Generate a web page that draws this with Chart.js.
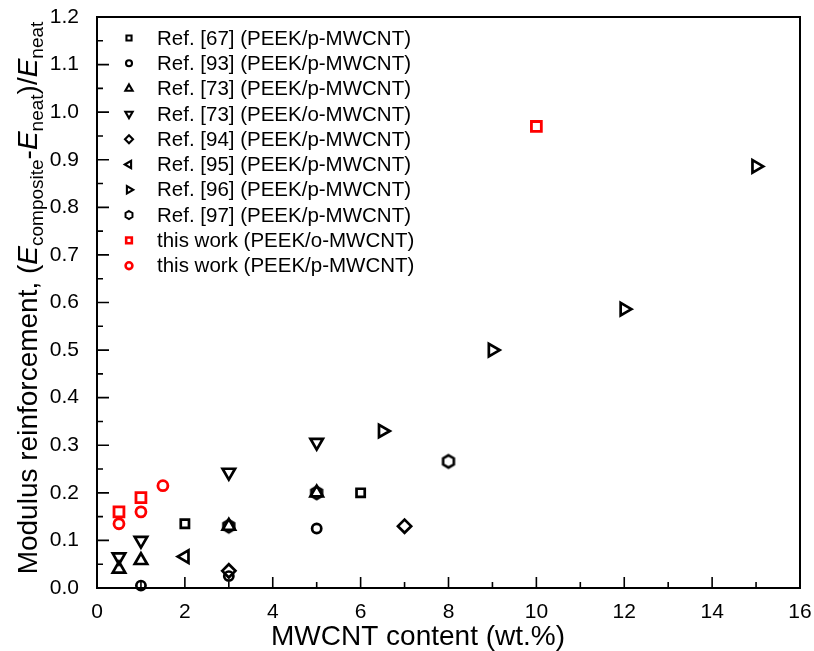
<!DOCTYPE html>
<html>
<head>
<meta charset="utf-8">
<script src="https://cdn.jsdelivr.net/npm/chart.js@4"></script>
<style>
html,body{margin:0;padding:0;background:#fff;}
#wrap{width:814px;height:651px;position:relative;}
</style>
</head>
<body>
<div id="wrap"><canvas id="c" width="814" height="651"></canvas></div>
<script>
// ---- data ----
const seriesLabels = [
  'Ref. [67] (PEEK/p-MWCNT)',
  'Ref. [93] (PEEK/p-MWCNT)',
  'Ref. [73] (PEEK/p-MWCNT)',
  'Ref. [73] (PEEK/o-MWCNT)',
  'Ref. [94] (PEEK/p-MWCNT)',
  'Ref. [95] (PEEK/p-MWCNT)',
  'Ref. [96] (PEEK/p-MWCNT)',
  'Ref. [97] (PEEK/p-MWCNT)',
  'this work (PEEK/o-MWCNT)',
  'this work (PEEK/p-MWCNT)'
];
const ref67X = [2, 6];          const ref67Y = [0.135, 0.2];
const ref93X = [1, 3, 5];       const ref93Y = [0.005, 0.025, 0.125];
const ref73pX = [0.5, 1, 3, 5]; const ref73pY = [0.04, 0.058, 0.13, 0.2];
const ref73oX = [0.5, 1, 3, 5]; const ref73oY = [0.065, 0.1, 0.243, 0.306];
const ref94X = [3, 7];          const ref94Y = [0.036, 0.13];
const ref95X = [2];             const ref95Y = [0.066];
const ref96X = [6.5, 9, 12, 15]; const ref96Y = [0.33, 0.5, 0.586, 0.886];
const ref97X = [3, 5, 8];       const ref97Y = [0.13, 0.2, 0.266];
const workOX = [0.5, 1, 10];    const workOY = [0.16, 0.19, 0.97];
const workPX = [0.5, 1, 1.5];   const workPY = [0.135, 0.16, 0.215];

const xTickLabels = ['0','2','4','6','8','10','12','14','16'];
const yTickLabels = ['0.0','0.1','0.2','0.3','0.4','0.5','0.6','0.7','0.8','0.9','1.0','1.1','1.2'];
const xTitle = 'MWCNT content (wt.%)';

const FONT = "'Liberation Sans', Arial, sans-serif";

function pts(xs, ys){ return xs.map((x,i)=>({x:x, y:ys[i]})); }

function hexCanvas(r, lw, color){
  const s = 2*Math.ceil(r + lw/2 + 2);
  const c = document.createElement('canvas');
  c.width = s; c.height = s;
  const g = c.getContext('2d');
  g.strokeStyle = color; g.lineWidth = lw; g.lineJoin = 'miter';
  g.beginPath();
  for (let i=0;i<6;i++){
    const a = -Math.PI/2 + i*Math.PI/3;
    const px = s/2 + r*Math.cos(a), py = s/2 + r*Math.sin(a);
    if(i===0) g.moveTo(px,py); else g.lineTo(px,py);
  }
  g.closePath(); g.stroke();
  return c;
}
const hexBig = hexCanvas(6.2, 2.6, '#000');
const hexSmall = hexCanvas(4.0, 2.0, '#000');

// style spec per series: [pointStyle, rotation, radius, borderWidth, color, legendRadius]
const styles = [
  ['rect', 0, 5.8, 2.7, '#000', 3.6],
  ['circle', 0, 4.6, 2.7, '#000', 3.0],
  ['triangle', 0, 7.2, 2.7, '#000', 4.2],
  ['triangle', 180, 7.2, 2.7, '#000', 4.2],
  ['rectRot', 0, 6.6, 2.7, '#000', 4.0],
  ['triangle', -90, 7.2, 2.7, '#000', 4.2],
  ['triangle', 90, 7.2, 2.7, '#000', 4.2],
  [hexBig, 0, 6, 2.6, '#000', 3.6],
  ['rect', 0, 7.0, 2.8, '#ff0000', 4.0],
  ['circle', 0, 5.0, 2.8, '#ff0000', 3.4]
];
const seriesData = [
  pts(ref67X, ref67Y), pts(ref93X, ref93Y), pts(ref73pX, ref73pY), pts(ref73oX, ref73oY),
  pts(ref94X, ref94Y), pts(ref95X, ref95Y), pts(ref96X, ref96Y), pts(ref97X, ref97Y),
  pts(workOX, workOY), pts(workPX, workPY)
];

const datasets = seriesLabels.map((lab, i) => ({
  label: lab,
  data: seriesData[i],
  pointStyle: styles[i][0],
  rotation: styles[i][1],
  pointRotation: styles[i][1],
  pointRadius: styles[i][2],
  pointHoverRadius: styles[i][2],
  pointBorderWidth: styles[i][3],
  borderWidth: styles[i][3],
  borderColor: styles[i][4],
  pointBorderColor: styles[i][4],
  backgroundColor: 'rgba(0,0,0,0)',
  pointBackgroundColor: 'rgba(0,0,0,0)',
  showLine: false,
  clip: false
}));

function drawMarker(ctx, style, rot, r, lw, color, x, y){
  ctx.save();
  ctx.strokeStyle = color; ctx.lineWidth = lw; ctx.lineJoin = 'miter';
  if (typeof style !== 'string'){
    ctx.drawImage(hexSmall, Math.round(x - hexSmall.width/2), Math.round(y - hexSmall.height/2));
    ctx.restore(); return;
  }
  ctx.beginPath();
  if (style === 'rect'){
    const s = r * Math.SQRT1_2;
    ctx.rect(x - s, y - s, 2*s, 2*s);
  } else if (style === 'circle'){
    ctx.arc(x, y, r, 0, Math.PI*2);
  } else if (style === 'rectRot'){
    ctx.moveTo(x - r, y); ctx.lineTo(x, y - r); ctx.lineTo(x + r, y); ctx.lineTo(x, y + r); ctx.closePath();
  } else if (style === 'triangle'){
    let a = rot * Math.PI/180;
    for (let k=0;k<3;k++){
      const px = x + Math.sin(a)*r, py = y - Math.cos(a)*r;
      if(k===0) ctx.moveTo(px,py); else ctx.lineTo(px,py);
      a += 2*Math.PI/3;
    }
    ctx.closePath();
  }
  ctx.stroke();
  ctx.restore();
}

const decor = {
  id: 'decor',
  afterDraw(chart){
    const ctx = chart.ctx, a = chart.chartArea;
    const xs = chart.scales.x, ys = chart.scales.y;
    ctx.save();
    ctx.strokeStyle = '#000';
    // frame
    ctx.lineWidth = 2;
    ctx.strokeRect(a.left, a.top, a.right - a.left, a.bottom - a.top);
    // inward ticks
    ctx.lineWidth = 1.6;
    ctx.beginPath();
    ys.ticks.forEach((t, i) => {
      const p = ys.getPixelForValue(t.value);
      ctx.moveTo(a.left, p); ctx.lineTo(a.left + 12, p);
      if (i < ys.ticks.length - 1){
        const pm = ys.getPixelForValue((t.value + ys.ticks[i+1].value)/2);
        ctx.moveTo(a.left, pm); ctx.lineTo(a.left + 6, pm);
      }
    });
    xs.ticks.forEach((t, i) => {
      const p = xs.getPixelForValue(t.value);
      ctx.moveTo(p, a.bottom); ctx.lineTo(p, a.bottom - 11);
      if (i < xs.ticks.length - 1){
        const pm = xs.getPixelForValue((t.value + xs.ticks[i+1].value)/2);
        ctx.moveTo(pm, a.bottom); ctx.lineTo(pm, a.bottom - 6);
      }
    });
    ctx.stroke();

    // x title
    ctx.fillStyle = '#000';
    ctx.font = '28px ' + FONT;
    ctx.textAlign = 'center'; ctx.textBaseline = 'alphabetic';
    ctx.fillText(xTitle, 418, 645);

    // y title with subscripts
    const main = '28px ' + FONT, ital = 'italic 28px ' + FONT, sub = '19px ' + FONT;
    const parts = [
      ['Modulus reinforcement, (', main, 0],
      ['E', ital, 0],
      ['composite', sub, 6],
      ['-', main, 0],
      ['E', ital, 0],
      ['neat', sub, 6],
      [')/', main, 0],
      ['E', ital, 0],
      ['neat', sub, 6]
    ];
    let total = 0;
    parts.forEach(p => { ctx.font = p[1]; total += ctx.measureText(p[0]).width; });
    ctx.save();
    ctx.translate(37, 298);
    ctx.rotate(-Math.PI/2);
    ctx.textAlign = 'left';
    let cx = -total/2;
    parts.forEach(p => {
      ctx.font = p[1];
      ctx.fillText(p[0], cx, p[2]);
      cx += ctx.measureText(p[0]).width;
    });
    ctx.restore();

    // legend
    ctx.font = '20.5px ' + FONT;
    ctx.textAlign = 'left'; ctx.textBaseline = 'middle';
    chart.data.datasets.forEach((ds, i) => {
      const y = a.top + 21 + i * 25.3;
      const st = styles[i];
      drawMarker(ctx, st[0], st[1], st[5], st[4] === '#000' ? 2.1 : 2.6, st[4], a.left + 32, y);
      ctx.fillStyle = '#000';
      ctx.fillText(ds.label, a.left + 60, y + 1);
    });
    ctx.restore();
  }
};

new Chart(document.getElementById('c'), {
  type: 'scatter',
  data: { datasets: datasets },
  options: {
    responsive: false,
    animation: false,
    events: [],
    layout: { padding: { top: 17, right: 14, left: 0, bottom: 0 } },
    plugins: { legend: { display: false }, tooltip: { enabled: false }, title: { display: false } },
    scales: {
      x: {
        type: 'linear', min: 0, max: 16,
        grid: { display: false, drawTicks: false },
        border: { display: false },
        ticks: { stepSize: 2, padding: 12, color: '#000', font: { family: FONT, size: 21 },
                 callback: (v, i) => xTickLabels[i] },
        afterFit: s => { s.height = 63; s.paddingLeft = 0; s.paddingRight = 0; }
      },
      y: {
        type: 'linear', min: 0, max: 1.2,
        grid: { display: false, drawTicks: false },
        border: { display: false },
        ticks: { stepSize: 0.1, padding: 18, color: '#000', font: { family: FONT, size: 21 },
                 callback: (v, i) => yTickLabels[i] },
        afterFit: s => { s.width = 97; s.paddingTop = 0; s.paddingBottom = 0; }
      }
    }
  },
  plugins: [decor]
});
</script>
</body>
</html>
